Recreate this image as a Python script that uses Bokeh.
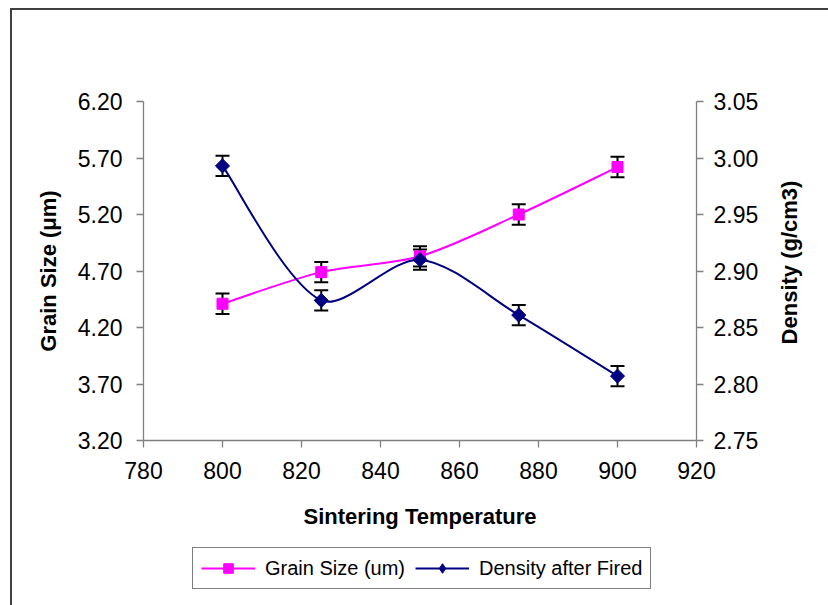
import math
from bokeh.plotting import figure
from bokeh.layouts import column, row
from bokeh.models import (Range1d, LinearAxis, FixedTicker, PrintfTickFormatter, Whisker, TeeHead,
                          ColumnDataSource, Legend, LegendItem, Label)
from bokeh.embed import file_html
from bokeh.resources import INLINE

# ---------------- data ----------------
temperature = [800, 825, 850, 875, 900]
grain_size = [4.41, 4.69, 4.83, 5.20, 5.62]
grain_err = [0.09, 0.09, 0.09, 0.09, 0.09]
density = [2.993, 2.874, 2.910, 2.861, 2.807]
density_err = [0.009, 0.009, 0.009, 0.009, 0.009]

x_ticks = [780, 800, 820, 840, 860, 880, 900, 920]
grain_ticks = [3.20, 3.70, 4.20, 4.70, 5.20, 5.70, 6.20]
density_ticks = [2.75, 2.80, 2.85, 2.90, 2.95, 3.00, 3.05]

X_RANGE = (780, 920)
GRAIN_RANGE = (3.20, 6.20)
DENSITY_RANGE = (2.75, 3.05)

PINK = "#FF00FF"
NAVY = "#000080"
AXIS = "#808080"
FONT = "Liberation Sans"

# frame size in pixels (used only to make the curve smoothing isotropic on screen)
FRAME_W, FRAME_H = 553, 339


def smooth_segments(xs, ys, yrange, t=0.3):
    """Bezier control points for a spreadsheet-like 'smoothed line' through the data points."""
    kx = FRAME_W / (X_RANGE[1] - X_RANGE[0])
    ky = FRAME_H / (yrange[1] - yrange[0])
    n = len(xs)
    px = [x * kx for x in xs]
    py = [y * ky for y in ys]

    def dist(i, j):
        return math.hypot(px[j] - px[i], py[j] - py[i])

    before, after = [], []
    for i in range(n):
        pm = max(i - 1, 0)
        pp = min(i + 1, n - 1)
        tx, ty = px[pp] - px[pm], py[pp] - py[pm]
        d0 = dist(pm, i)
        d1 = dist(i, pp)
        s = d0 + d1 if d0 + d1 > 0 else 1.0
        if i == 0 or i == n - 1:
            fa = fb = t / 2.0
        else:
            fa = t * d0 / s
            fb = t * d1 / s
        before.append((px[i] - fa * tx, py[i] - fa * ty))
        after.append((px[i] + fb * tx, py[i] + fb * ty))

    d = dict(x0=[], y0=[], x1=[], y1=[], cx0=[], cy0=[], cx1=[], cy1=[])
    for i in range(n - 1):
        d["x0"].append(xs[i]); d["y0"].append(ys[i])
        d["x1"].append(xs[i + 1]); d["y1"].append(ys[i + 1])
        d["cx0"].append(after[i][0] / kx); d["cy0"].append(after[i][1] / ky)
        d["cx1"].append(before[i + 1][0] / kx); d["cy1"].append(before[i + 1][1] / ky)
    return ColumnDataSource(d)


def blank(fig):
    fig.xgrid.visible = False
    fig.ygrid.visible = False
    fig.outline_line_color = None
    fig.background_fill_color = "white"
    fig.border_fill_color = "white"


# ---------------- main chart ----------------
MAIN_W, MAIN_H = 758, 530
p = figure(width=MAIN_W, height=MAIN_H,
           x_range=Range1d(*X_RANGE), y_range=Range1d(*GRAIN_RANGE),
           output_backend="svg", toolbar_location=None,
           min_border_left=131, min_border_right=74,
           min_border_top=91, min_border_bottom=100)
p.extra_y_ranges = {"density": Range1d(*DENSITY_RANGE)}
blank(p)

right_axis = LinearAxis(y_range_name="density")
p.add_layout(right_axis, "right")

p.xaxis.ticker = FixedTicker(ticks=x_ticks)
p.yaxis[0].ticker = FixedTicker(ticks=grain_ticks)
right_axis.ticker = FixedTicker(ticks=density_ticks)
p.yaxis[0].formatter = PrintfTickFormatter(format="%.2f")
right_axis.formatter = PrintfTickFormatter(format="%.2f")

p.xaxis.axis_label = "Sintering Temperature"
p.yaxis[0].axis_label = "Grain Size (\u03bcm)"

for ax in [p.xaxis[0], p.yaxis[0], right_axis]:
    ax.axis_line_color = AXIS
    ax.axis_line_width = 1.3
    ax.major_tick_line_color = AXIS
    ax.major_tick_line_width = 1.3
    ax.major_tick_out = 7
    ax.major_tick_in = 0
    ax.minor_tick_out = 0
    ax.minor_tick_in = 0
    ax.major_label_text_font = FONT
    ax.major_label_text_font_size = "23px"
    ax.major_label_text_color = "black"
    ax.axis_label_text_font = FONT
    ax.axis_label_text_font_size = "22px"
    ax.axis_label_text_font_style = "bold"
    ax.axis_label_text_color = "black"

p.xaxis.major_label_standoff = 14
p.xaxis.axis_label_standoff = 22
p.yaxis[0].major_label_standoff = 14
p.yaxis[0].axis_label_standoff = 14
right_axis.major_label_standoff = 10

# error bars
gs = ColumnDataSource(dict(x=temperature, y=grain_size,
                           lo=[v - e for v, e in zip(grain_size, grain_err)],
                           hi=[v + e for v, e in zip(grain_size, grain_err)]))
ds = ColumnDataSource(dict(x=temperature, y=density,
                           lo=[v - e for v, e in zip(density, density_err)],
                           hi=[v + e for v, e in zip(density, density_err)]))

for src, rng in [(gs, "default"), (ds, "density")]:
    w = Whisker(source=src, base="x", lower="lo", upper="hi", dimension="height",
                line_color="black", line_width=2, level="underlay",
                upper_head=TeeHead(size=14, line_color="black", line_width=2),
                lower_head=TeeHead(size=14, line_color="black", line_width=2))
    if rng != "default":
        w.y_range_name = rng
    p.add_layout(w)

p.bezier(source=smooth_segments(temperature, grain_size, GRAIN_RANGE),
         x0="x0", y0="y0", x1="x1", y1="y1",
         cx0="cx0", cy0="cy0", cx1="cx1", cy1="cy1", line_color=PINK, line_width=2)
p.scatter("x", "y", source=gs, marker="square", size=11, fill_color=PINK, line_color=PINK)

p.bezier(source=smooth_segments(temperature, density, DENSITY_RANGE),
         x0="x0", y0="y0", x1="x1", y1="y1",
         cx0="cx0", cy0="cy0", cx1="cx1", cy1="cy1", line_color=NAVY, line_width=2,
         y_range_name="density")
p.scatter("x", "y", source=ds, marker="square", angle=math.pi / 4, size=10,
          fill_color=NAVY, line_color=NAVY, y_range_name="density")

# ---------------- right title strip (text reads bottom-to-top, as in the reference) ----------------
R_W = 58
r = figure(width=R_W, height=MAIN_H, x_range=Range1d(0, R_W), y_range=Range1d(0, 339),
           output_backend="svg", toolbar_location=None,
           x_axis_type=None, y_axis_type=None,
           min_border_left=0, min_border_right=0, min_border_top=91, min_border_bottom=100)
blank(r)
r.add_layout(Label(x=19, y=178, text="Density (g/cm3)", angle=math.pi / 2,
                   text_align="center", text_baseline="middle",
                   text_font=FONT, text_font_size="22px", text_font_style="bold",
                   text_color="black"))

# ---------------- legend strip ----------------
q = figure(width=MAIN_W + R_W, height=65, x_range=Range1d(*X_RANGE), y_range=Range1d(0, 1),
           output_backend="svg", toolbar_location=None,
           x_axis_type=None, y_axis_type=None,
           min_border_left=131, min_border_right=MAIN_W + R_W - 684,
           min_border_top=0, min_border_bottom=0)
blank(q)

# legend keys: same series, drawn outside this strip's visible range
kg_line = q.line(temperature, grain_size, line_color=PINK, line_width=2)
kg_pts = q.scatter(temperature, grain_size, marker="square", size=11, fill_color=PINK, line_color=PINK)
kd_line = q.line(temperature, density, line_color=NAVY, line_width=2)
kd_pts = q.scatter(temperature, density, marker="diamond", size=15,
                   fill_color=NAVY, line_color=NAVY)

legend = Legend(items=[LegendItem(label="Grain Size (um)", renderers=[kg_line, kg_pts]),
                       LegendItem(label="Density after Fired", renderers=[kd_line, kd_pts])],
                orientation="horizontal", location=(49, 16),
                label_text_font=FONT, label_text_font_size="20px", label_text_color="black",
                glyph_width=54, glyph_height=24, label_height=24, label_standoff=10,
                spacing=10, padding=8, margin=0,
                border_line_color="black", border_line_width=1,
                background_fill_color="white", background_fill_alpha=1)
q.add_layout(legend)

layout = column(row(p, r, spacing=0), q, spacing=0,
                styles={"margin-left": "10px", "margin-top": "8px",
                        "border-left": "2px solid #404040", "border-top": "2px solid #404040"})

open("out.html", "w").write(file_html(layout, INLINE))
